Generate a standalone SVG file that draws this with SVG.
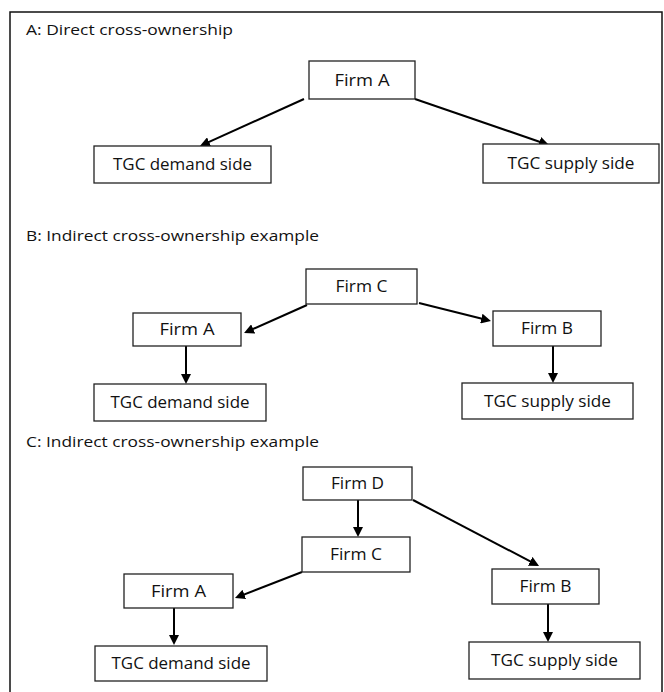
<svg xmlns="http://www.w3.org/2000/svg" width="664" height="692" viewBox="0 0 664 692">
<style>
.frame{fill:none;stroke:#111;stroke-width:1.5}
.box{fill:#fff;stroke:#222;stroke-width:1.3}
.t{font-family:"Open Sans","Liberation Sans",sans-serif;font-size:16px;fill:#111;text-anchor:middle}
.h{font-family:"Open Sans","Liberation Sans",sans-serif;font-size:14px;fill:#111}
.c{stroke:#000;stroke-width:2;fill:none;marker-end:url(#ah)}
</style>
<defs>
<marker id="ah" markerUnits="userSpaceOnUse" markerWidth="10" markerHeight="10" refX="6" refY="5" orient="auto">
<path d="M0,0 L10,5 L0,10 z" fill="#000"/>
</marker>
</defs>
<rect x="0" y="0" width="664" height="692" fill="#fff"/>
<rect class="frame" x="10" y="12" width="652" height="700"/>
<g id="titles">
<text class="h" x="26" y="35" textLength="207" lengthAdjust="spacingAndGlyphs">A: Direct cross-ownership</text>
<text class="h" x="26" y="241" textLength="293" lengthAdjust="spacingAndGlyphs">B: Indirect cross-ownership example</text>
<text class="h" x="26" y="447" textLength="293" lengthAdjust="spacingAndGlyphs">C: Indirect cross-ownership example</text>
</g>
<g id="connectors">
<line class="c" x1="304" y1="99" x2="203.6" y2="144.4"/>
<line class="c" x1="415" y1="99" x2="545.2" y2="143.7"/>
<line class="c" x1="307" y1="305" x2="247.7" y2="331.4"/>
<line class="c" x1="419" y1="303" x2="487.1" y2="320"/>
<line class="c" x1="186" y1="346" x2="186" y2="380"/>
<line class="c" x1="553" y1="346" x2="553" y2="379"/>
<line class="c" x1="358" y1="500" x2="358" y2="533"/>
<line class="c" x1="413" y1="500" x2="535.5" y2="564.1"/>
<line class="c" x1="302" y1="572" x2="238.7" y2="596.6"/>
<line class="c" x1="174" y1="608" x2="174" y2="641"/>
<line class="c" x1="548" y1="604" x2="548" y2="638"/>
</g>
<g id="a-firmA"><rect class="box" x="309" y="61" width="106" height="38"/><text class="t" x="362" y="85.5" textLength="55" lengthAdjust="spacingAndGlyphs">Firm A</text></g>
<g id="a-demand"><rect class="box" x="94" y="146" width="177" height="37"/><text class="t" x="182.5" y="170" textLength="139" lengthAdjust="spacingAndGlyphs">TGC demand side</text></g>
<g id="a-supply"><rect class="box" x="483" y="144" width="176" height="39"/><text class="t" x="571" y="169" textLength="127" lengthAdjust="spacingAndGlyphs">TGC supply side</text></g>
<g id="b-firmC"><rect class="box" x="306" y="269" width="111" height="35"/><text class="t" x="361.5" y="292" textLength="52" lengthAdjust="spacingAndGlyphs">Firm C</text></g>
<g id="b-firmA"><rect class="box" x="133" y="313" width="108" height="33"/><text class="t" x="187" y="335" textLength="55" lengthAdjust="spacingAndGlyphs">Firm A</text></g>
<g id="b-firmB"><rect class="box" x="493" y="311" width="108" height="35"/><text class="t" x="547" y="334" textLength="52" lengthAdjust="spacingAndGlyphs">Firm B</text></g>
<g id="b-demand"><rect class="box" x="94" y="384" width="172" height="37"/><text class="t" x="180" y="408" textLength="139" lengthAdjust="spacingAndGlyphs">TGC demand side</text></g>
<g id="b-supply"><rect class="box" x="462" y="383" width="171" height="36"/><text class="t" x="547.5" y="406.5" textLength="127" lengthAdjust="spacingAndGlyphs">TGC supply side</text></g>
<g id="c-firmD"><rect class="box" x="303" y="467" width="109" height="33"/><text class="t" x="357.5" y="489" textLength="53" lengthAdjust="spacingAndGlyphs">Firm D</text></g>
<g id="c-firmC"><rect class="box" x="302" y="537" width="108" height="35"/><text class="t" x="356" y="560" textLength="52" lengthAdjust="spacingAndGlyphs">Firm C</text></g>
<g id="c-firmA"><rect class="box" x="124" y="574" width="109" height="34"/><text class="t" x="178.5" y="596.5" textLength="55" lengthAdjust="spacingAndGlyphs">Firm A</text></g>
<g id="c-firmB"><rect class="box" x="492" y="569" width="107" height="35"/><text class="t" x="545.5" y="592" textLength="52" lengthAdjust="spacingAndGlyphs">Firm B</text></g>
<g id="c-demand"><rect class="box" x="95" y="646" width="172" height="35"/><text class="t" x="181" y="669" textLength="139" lengthAdjust="spacingAndGlyphs">TGC demand side</text></g>
<g id="c-supply"><rect class="box" x="469" y="642" width="171" height="37"/><text class="t" x="554.5" y="666" textLength="127" lengthAdjust="spacingAndGlyphs">TGC supply side</text></g>
</svg>
